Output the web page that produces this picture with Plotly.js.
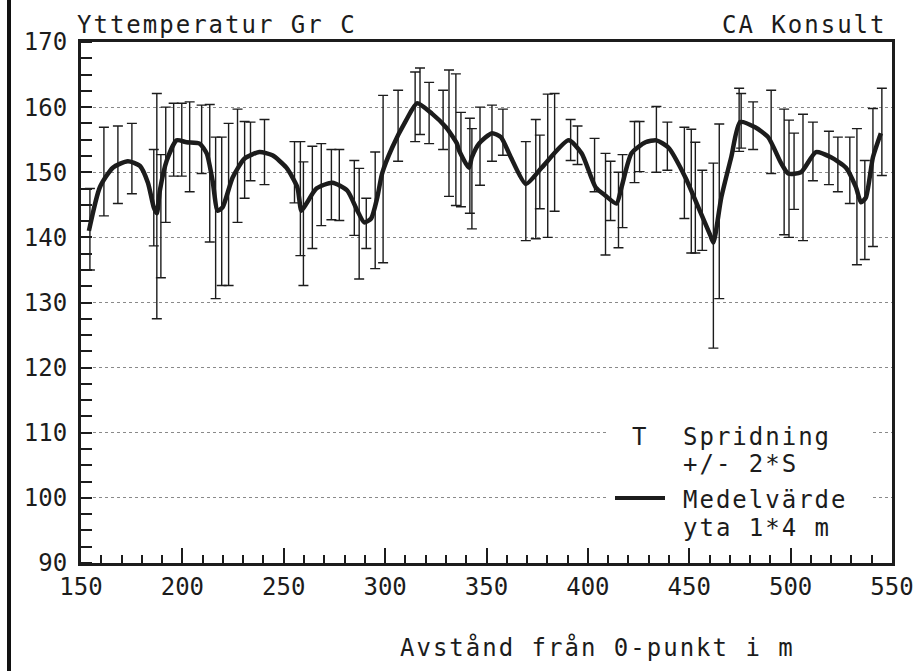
<!DOCTYPE html>
<html>
<head>
<meta charset="utf-8">
<script src="https://cdn.plot.ly/plotly-3.0.1.min.js"></script>
<style>
  html, body { margin: 0; padding: 0; background: #fff; }
  #chart { width: 920px; height: 671px; }
  .annotation-text { letter-spacing: 2px; }
</style>
</head>
<body>
<div id="chart"></div>
<script>
// Error bar (spread +/- 2*S) positions and limits
const barX = [154.4,161.3,168.2,175.1,185.9,187.4,189.4,191.8,195.7,199.7,203.6,209.5,213.5,216.4,219.4,222.8,227.2,230.7,233.6,240.5,255.3,258.2,259.7,264.1,268.5,273.5,277.4,284.8,287.2,290.7,295.1,299.0,306.4,314.8,317.2,321.7,328.6,331.5,334.9,337.4,341.8,342.8,346.8,352.7,358.1,369.4,374.3,376.3,380.2,383.6,391.5,394.9,403.3,408.7,411.2,415.1,417.1,423.0,425.5,433.8,439.2,447.6,451.0,453.0,456.4,461.9,464.8,474.6,475.6,481.5,490.4,496.8,499.2,501.7,506.1,511.0,518.9,523.3,529.2,532.7,536.6,540.6,545.0];
const barUpper = [147.5,156.9,157.1,157.5,153.5,162.1,152.7,160.0,160.6,160.6,160.8,160.3,160.4,155.4,155.4,157.5,159.7,157.8,157.7,158.1,154.7,154.7,151.6,154.0,154.4,153.5,153.5,151.8,150.6,146.0,153.1,161.8,162.6,165.4,166.0,163.8,162.6,165.7,165.1,159.2,158.3,156.7,160.0,160.3,159.7,154.7,158.1,155.7,162.0,162.1,158.1,157.1,155.2,152.9,151.7,150.0,152.7,157.8,157.8,160.1,157.7,156.9,156.6,154.6,150.3,151.4,157.4,162.9,162.1,160.8,162.6,159.7,158.0,156.0,158.9,157.7,156.3,155.4,155.4,156.7,151.8,159.8,162.9];
const barLower = [135.0,143.3,145.2,146.7,138.7,127.5,133.8,142.3,149.4,149.4,147.0,149.8,139.3,130.6,132.6,132.6,142.3,146.0,148.7,148.1,145.3,137.2,132.6,138.3,141.8,142.7,142.6,140.3,133.6,138.3,135.2,136.1,151.7,154.7,155.8,154.4,153.5,146.3,144.9,144.7,143.7,141.3,148.0,151.7,152.6,139.5,139.8,144.4,140.0,144.0,151.8,151.2,147.0,137.3,142.6,138.4,141.5,148.4,150.1,150.0,150.3,142.9,137.6,137.6,138.0,123.0,130.6,153.2,153.7,153.5,149.8,140.4,140.0,144.3,139.5,148.7,148.1,147.0,145.2,135.8,136.6,138.6,149.5];

// Mean value (Medelvärde yta 1*4 m)
const meanX = [153.9,159.3,165.7,173.1,179.0,183.0,185.9,187.4,188.9,192.3,197.2,202.1,208.5,212.0,214.9,217.4,219.8,224.8,230.7,238.0,244.4,251.3,256.7,258.7,261.2,266.1,274.0,281.3,286.3,289.7,293.1,296.1,298.5,303.5,310.4,315.8,323.1,330.0,335.4,336.4,341.3,342.8,346.3,352.7,357.1,362.0,369.4,377.2,390.5,396.9,403.8,408.7,414.1,416.6,421.5,428.4,433.8,439.7,448.1,454.5,460.4,461.9,465.8,470.7,475.1,482.5,488.9,495.3,498.8,505.1,512.5,519.9,527.3,532.2,534.7,537.1,540.6,544.5];
const meanY = [141.0,147.7,150.7,151.7,151.0,148.4,144.6,143.7,147.2,151.8,154.9,154.6,154.4,152.9,148.7,144.1,144.6,149.2,152.1,153.1,152.6,150.7,147.7,144.1,145.2,147.5,148.4,147.2,144.1,142.3,142.9,146.1,149.8,153.8,158.0,160.6,159.0,156.9,154.4,153.4,150.7,152.3,154.4,156.0,155.4,152.3,148.2,150.7,154.9,152.9,147.7,146.4,145.2,147.7,152.9,154.6,154.9,153.8,149.2,144.6,140.3,139.2,146.1,152.3,157.7,156.9,155.4,151.4,149.8,150.0,153.1,152.3,150.7,147.7,145.4,146.1,152.3,156.0];

const yTicks = [90,100,110,120,130,140,150,160,170];
const xTicks = [150,200,250,300,350,400,450,500,550];

const titleText = "Yttemperatur Gr C";
const sourceText = "CA Konsult";
const xTitleText = "Avstånd från 0-punkt i m";
const legendBarLines = ["Spridning", "+/- 2*S"];
const legendLineLines = ["Medelvärde", "yta 1*4 m"];

const barMid = barX.map((_, i) => (barUpper[i] + barLower[i]) / 2);
const barHalf = barX.map((_, i) => (barUpper[i] - barLower[i]) / 2);

const ink = '#1c1c1c';
const FONT = 'DejaVu Sans Mono, Liberation Mono, monospace';

const traces = [
  {
    type: 'scatter', mode: 'markers', x: barX, y: barMid,
    marker: { size: 2, color: 'rgba(0,0,0,0)' },
    error_y: { type: 'data', symmetric: true, array: barHalf, color: ink, thickness: 1.4, width: 5 },
    hoverinfo: 'skip', showlegend: false
  },
  {
    type: 'scatter', mode: 'lines', x: meanX, y: meanY,
    line: { color: ink, width: 4.5, shape: 'spline', smoothing: 0.6 },
    showlegend: false
  }
];

// pixel -> paper helpers (plot area: left 81, right 892, top 42, bottom 563)
const L = 81, R = 892, T = 42, B = 563;
const px = v => (v - L) / (R - L);
const py = v => (B - v) / (B - T);

const ann = (text, x, y, xa, size) => ({
  text, xref: 'paper', yref: 'paper', x: px(x), y: py(y), xanchor: xa, yanchor: 'middle',
  showarrow: false, font: { family: FONT, size: size || 24, color: ink }
});

const layout = {
  width: 920, height: 671,
  margin: { l: L, r: 920 - R, t: T, b: 671 - B },
  paper_bgcolor: '#fff', plot_bgcolor: '#fff',
  showlegend: false,
  xaxis: {
    range: [150, 550], tickvals: xTicks, ticktext: xTicks.map(String),
    ticks: 'inside', ticklen: 15, tickwidth: 2, tickcolor: ink,
    minor: { dtick: 10, tick0: 150, ticks: 'inside', ticklen: 8, tickwidth: 2, tickcolor: ink, showgrid: false },
    showgrid: false, zeroline: false,
    showline: true, mirror: true, linecolor: ink, linewidth: 3,
    tickfont: { family: FONT, size: 24, color: ink },
    fixedrange: true
  },
  yaxis: {
    range: [90, 170], tickvals: yTicks, ticktext: yTicks.map(String),
    ticks: '',
    minor: { dtick: 2.5, tick0: 90, ticks: 'inside', ticklen: 11, tickwidth: 2, tickcolor: ink, showgrid: false },
    showgrid: true, gridcolor: '#8a8a8a', gridwidth: 1, griddash: 'dot',
    zeroline: false,
    showline: true, mirror: true, linecolor: ink, linewidth: 3,
    tickfont: { family: FONT, size: 24, color: ink },
    ticklabelstandoff: 6,
    fixedrange: true
  },
  shapes: [
    { type: 'rect', xref: 'paper', yref: 'paper', x0: px(608), x1: px(872), y0: py(545), y1: py(410),
      fillcolor: '#fff', line: { width: 0 }, layer: 'above' },
    { type: 'line', xref: 'paper', yref: 'paper', x0: px(615), x1: px(665), y0: py(498), y1: py(498),
      line: { color: ink, width: 4 }, layer: 'above' },
    { type: 'line', xref: 'paper', yref: 'paper', x0: px(9), x1: px(9), y0: py(671), y1: py(0),
      line: { color: '#111', width: 4 }, layer: 'above' }
  ],
  annotations: [
    ann(titleText, 75, 25, 'left'),
    ann(sourceText, 889, 25, 'right'),
    ann(xTitleText, 398, 647, 'left'),
    ann('T', 640, 437, 'center'),
    ann(legendBarLines[0], 681, 437, 'left'),
    ann(legendBarLines[1], 681, 464, 'left'),
    ann(legendLineLines[0], 681, 500, 'left'),
    ann(legendLineLines[1], 681, 528, 'left')
  ]
};

Plotly.newPlot('chart', traces, layout, { displayModeBar: false, staticPlot: true });
</script>
</body>
</html>
